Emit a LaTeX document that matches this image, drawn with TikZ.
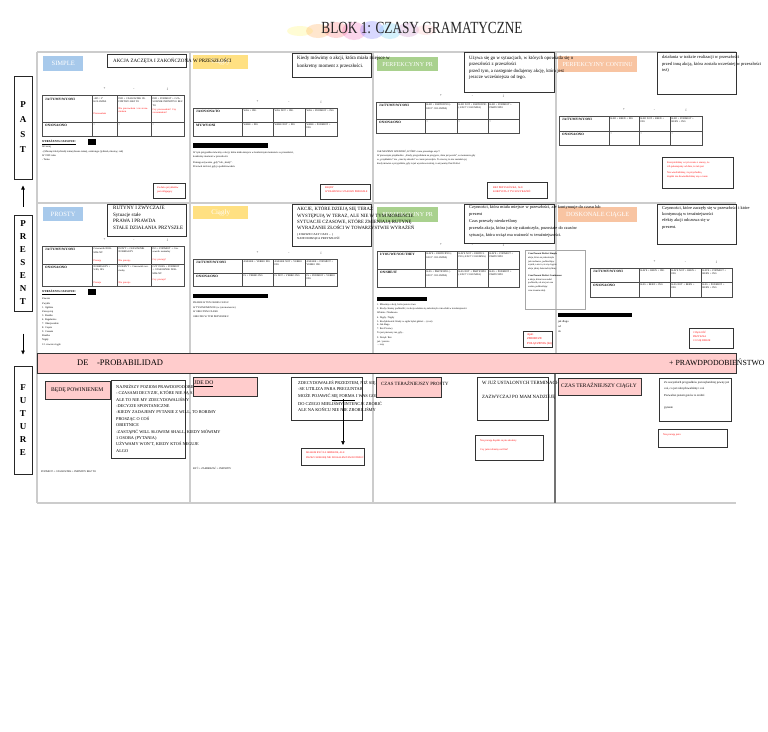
\documentclass[tikz,border=0pt]{standalone}
\usepackage{fontspec}
\setmainfont{Liberation Serif}
\usepackage{graphicx}
\usetikzlibrary{arrows.meta, positioning}
\definecolor{niebieski}{HTML}{A7C9EB}
\definecolor{zolty}{HTML}{FFE082}
\definecolor{zielony}{HTML}{A9D18E}
\definecolor{pomarancz}{HTML}{F8C4A2}
\definecolor{rozowy}{HTML}{FFCCCC}
\newcommand{\tabfont}{\fontsize{2.5}{3.1}\selectfont}
\newcommand{\czer}[1]{\textcolor{red}{#1}}

\tikzset{
  etykieta/.style={fill=#1, text=white, inner sep=0pt, anchor=north west, font=\fontsize{6}{6}\selectfont},
  ramka/.style={draw=black!80, line width=1pt, inner sep=0pt, anchor=north west},
  rozramka/.style={ramka, fill=rozowy},
  tekst/.style={inner sep=0pt, anchor=north west, align=left},
  czerwony/.style={tekst, text=red, font=\fontsize{2.6}{4}\selectfont},
  drobny/.style={tekst, font=\fontsize{2.6}{4.2}\selectfont},
  siatka/.style={draw=black!70, line width=0.7pt},
  znak/.style={inner sep=0pt, font=\fontsize{3.2}{3.2}\selectfont},
  kolumna/.style={inner sep=0pt, anchor=north west, align=left, font=\tabfont},
  linia/.style={draw=black!20, line width=1.4pt},
  bok/.style={draw=black!85, line width=1pt, minimum width=18, inner sep=0pt, align=center},
  strzalka/.style={-{Triangle[length=4pt,width=3.5pt]}, line width=0.6pt},
}

% tabela: nazwa, x0, y0, x1, y1, podzial wiersza, trzy podzialy kolumn
\newcommand{\tabela}[9]{%
  \def\tx{#2}\def\tca{#7}\def\tcb{#8}\def\tcc{#9}\def\txx{#4}%
  \draw[siatka] (#2,#3) rectangle (#4,#5);
  \draw[siatka] (#2,#6) -- (#4,#6);
  \foreach \kol in {#7,#8,#9} {\draw[siatka] (\kol,#3) -- (\kol,#5);}
  \node[znak] (#1plus) at ({(#7+#8)/2},{#3-6}) {+};
  \node[znak] (#1minus) at ({(#8+#9)/2},{#3-6}) {-};
  \node[znak] (#1pyt) at ({(#9+#4)/2},{#3-6}) {¿};
}
% wiersz tabeli: nazwa, y, osoba, trzy komorki
\newcommand{\wiersz}[6]{%
  \pgfmathsetmacro\kwa{\tca-\tx-4}\pgfmathsetmacro\kwb{\tcb-\tca-3}%
  \pgfmathsetmacro\kwc{\tcc-\tcb-3}\pgfmathsetmacro\kwd{\txx-\tcc-3}%
  \node[kolumna, text width=\kwa pt, font=\fontsize{3.3}{3.8}\selectfont\bfseries] (#1a) at (\tx+3,#2) {#3};
  \node[kolumna, text width=\kwb pt] (#1b) at (\tca+1.5,#2) {#4};
  \node[kolumna, text width=\kwc pt] (#1c) at (\tcb+1.5,#2) {#5};
  \node[kolumna, text width=\kwd pt] (#1d) at (\tcc+1.5,#2) {#6};
}

\begin{document}
\begin{tikzpicture}[x=1pt, y=-1pt]
\useasboundingbox (0,0) rectangle (768,731);
\fill[white] (0,0) rectangle (768,731);

% tytul z plama kolorow
\foreach \bx/\by/\rx/\ry/\bc in {300/31/13/5/yellow!60, 318/31/12/7/orange!70, 336/30/12/8/red!55,
    354/31/12/9/magenta!60, 372/30/12/9/blue!55, 390/31/11/8/cyan!60, 408/30/11/7/violet!45, 426/30/10/5/pink}
  \fill[\bc, opacity=0.28] (\bx,\by) ellipse [x radius=\rx, y radius=\ry];
\node[inner sep=0pt, text=black!85, font=\fontsize{17}{17}\selectfont] (tytul) at (422,28)
  {\scalebox{0.78}[1]{BLOK 1: CZASY GRAMATYCZNE}};

% linie podzialu
\draw[linia] (37,52) -- (736,52);
\draw[linia] (37,203) -- (736,203);
\draw[linia] (37,503) -- (736,503);
\foreach \kx in {37,190,373} \draw[linia] (\kx,52) -- (\kx,503);
\draw[linia] (556,52) -- (556,353);
\draw[draw=black!55, line width=1.2pt] (555,373) -- (555,503);

% os czasu
\node[bok, minimum height=103, font=\fontsize{9}{15}\selectfont\bfseries] (past) at (23,127.5) {P\\A\\S\\T};
\node[bok, minimum height=96, font=\fontsize{9}{13}\selectfont\bfseries] (present) at (23,263) {P\\R\\E\\S\\E\\N\\T};
\node[bok, minimum height=108, font=\fontsize{9}{13}\selectfont\bfseries] (future) at (23,420) {F\\U\\T\\U\\R\\E};
\draw[strzalka, shorten <=8pt, shorten >=6pt] (present) -- (past);
\draw[strzalka, shorten <=22pt, shorten >=11pt] (present) -- (future);

% etykiety czasow
\node[etykieta=niebieski, minimum width=40, minimum height=15, font=\fontsize{6.5}{6.5}\selectfont] (simple) at (43,56) {SIMPLE};
\node[etykieta=zolty, minimum width=55, minimum height=14, font=\fontsize{7}{7}\selectfont] (ciagly1) at (193,55) {Ciągły};
\node[etykieta=zielony, minimum width=61, minimum height=14] (perf1) at (377,57) {PERFEKCYJNY PR};
\node[etykieta=pomarancz, minimum width=79, minimum height=16] (perfc1) at (558,56) {PERFEKCYJNY CONTINU};
\node[etykieta=niebieski, minimum width=40, minimum height=14, font=\fontsize{6.5}{6.5}\selectfont] (prosty) at (43,207) {PROSTY};
\node[etykieta=zolty, minimum width=55, minimum height=13, font=\fontsize{7}{7}\selectfont] (ciagly2) at (193,206) {Ciągły};
\node[etykieta=zielony, minimum width=61, minimum height=15] (perf2) at (377,207) {PERFEKCYJNY PR};
\node[etykieta=pomarancz, minimum width=79, minimum height=15, font=\fontsize{6.3}{6.3}\selectfont] (dosk) at (558,207) {DOSKONALE CIĄGŁE};

% ---------- PAST ----------
\node[ramka, minimum width=79, minimum height=13] (def1) at (107,54) {};
\node[tekst, anchor=west, font=\fontsize{5}{5}\selectfont] (def1t) at (113,60.5) {AKCJA ZACZĘTA I ZAKOŃCZONA W PRZESZŁOŚCI};
\tabela{ta}{42}{95}{184}{136}{122}{92}{117}{151}
\wiersz{ta1}{98}{JA/TY/MY/WY/ONI}{+ED / 2° KOLUMNA\\[8pt]\czer{Pracowałem}}{DID + CZASOWNIK INFINITIVO BEZ TO\\[3pt]\czer{Nie pracowałem / nie zrozumiałem}}{DID + PODMIOT + CZASOWNIK INFINITIVO BEZ TO\\[1pt]\czer{Czy pracowałem? Czy zrozumiałem?}}
\wiersz{ta2}{124}{ON/ONA/ONO}{=}{=}{=}
\node[tekst, font=\fontsize{3}{3}\selectfont\bfseries\itshape] (wyr1) at (42,140) {\underline{WYRAŻENIA CZASOWE:}};
\fill (88,139) rectangle (96,145);
\node[drobny] (wyr1t) at (42,146) {Wczoraj\\- (Miesiąc/rok/tydzień) temu (dawno temu), ostatniego (tydzień, miesiąc, rok)\\W 1999 roku\\- Temu};
\node[ramka, minimum width=32, minimum height=15] (bl1) at (153,183) {};
\node[czerwony] (bl1t) at (157,186.5) {Za dużo przykładów\\jest obligujący};

\node[ramka, minimum width=79, minimum height=24] (def2) at (292,53) {};
\node[tekst, font=\fontsize{5}{8}\selectfont] (def2t) at (297,56) {Kiedy mówimy o akcji, która miała miejsce w\\konkretny moment z przeszłości.};
\tabela{tb}{193}{108}{337}{136}{122}{242}{273}{305}
\wiersz{tb1}{110}{JA/ON/ONA/TO}{WAS + ING}{WAS NOT + ING}{WAS + PODMIOT + ING}
\wiersz{tb2}{124}{MY/WY/ONI}{WERE + ING}{WERE NOT + ING}{WERE + PODMIOT + ING}
\fill (193,143) rectangle (268,148);
\node[drobny] (wyr2t) at (193,151.5) {W tym przypadku mówimy o akcji, która miała miejsce w konkretnym momencie w przeszłości,\\konkretny moment w przeszłości.\\[1.5pt]Pomaga używanie ,,gdy'' lub ,,kiedy''.\\Przerwał mi ktoś, gdy ja podróżowałem.};
\node[ramka, minimum width=50, minimum height=15] (bl2) at (320,184) {};
\node[czerwony] (bl2t) at (325,187) {BŁĘDY\\WYRAŻENIA CZASOWE PRZESZŁE};

\node[ramka, minimum width=90, minimum height=40] (def3) at (464,52) {};
\node[tekst, font=\fontsize{4.8}{6.6}\selectfont] (def3t) at (469,55.5) {Używa się go w sytuacjach, w których opowiada się o\\przeszłości z przeszłości\\przed tym, a następnie dodajemy akcję, która jest\\jeszcze wcześniejsza od tego.};
\tabela{tc}{376}{102}{519}{133}{119}{425}{457}{488}
\wiersz{tc1}{104}{JA/TY/MY/WY/ONI}{HAD + PARTICIPIO (-ED/3° COLUMNA)}{HAD NOT + PARTICIPIO (-ED/3° COLUMNA)}{HAD + PODMIOT + PARTICIPIO}
\wiersz{tc2}{121}{ON/ONA/ONO}{=}{=}{=}
\node[drobny, font=\fontsize{2.5}{4.2}\selectfont] (wyr3t) at (377,150) {JAK MOŻEMY WIEDZIEĆ, KTÓRY czasu przeszłego użyć?\\W pierwszym przykładzie: ,,Kiedy przyjechałem na przyjęcie, Ania już poszła'', w momencie gdy\\w ,,przykładzie'' nie ,,czas by odeszła'' w czasie przeszłym. To znaczy, że nie zastałem jej\\kiedy mówisz o przyjeździe, gdy ta już wyszła wcześniej, to używamy Past Perfect};
\node[ramka, minimum width=60, minimum height=16] (bl3) at (487,182) {};
\node[czerwony] (bl3t) at (493,186) {BEZ PRZYSŁÓWKA, ALE\\KORZYSTA Z TYCH WYRAŻEŃ};

\node[ramka, minimum width=79, minimum height=42] (def4) at (657,52) {};
\node[tekst, font=\fontsize{4.5}{6.5}\selectfont] (def4t) at (662,55.5) {działania w trakcie realizacji w przeszłości\\przed inną akcją, która została wcześniej w przeszłości\\też)};
\tabela{td}{559}{116}{702}{145}{131}{609}{639}{670}
\wiersz{td1}{118}{JA/TY/MY/WY/ONI}{HAD + BEEN + ING}{HAD NOT + BEEN + ING}{HAD + PODMIOT + BEEN + ING}
\wiersz{td2}{133}{ON/ONA/ONO}{=}{=}{=}
\node[ramka, minimum width=71, minimum height=31] (bl4) at (662,157) {};
\node[czerwony] (bl4t) at (667,161) {Korzystaliśmy w tym czasie z szansy, że\\ich pokazujemy od dnia, że tak jest\\[2pt]Nie wiedzieliśmy, że przychodzą\\dopóki nie dowiedzieliśmy się o czasie};

% ---------- PRESENT ----------
\node[ramka, minimum width=79, minimum height=32] (def5) at (107,204) {};
\node[tekst, font=\fontsize{5}{6.7}\selectfont] (def5t) at (113,206) {RUTYNY I ZWYCZAJE\\Sytuacje stałe\\PRAWA I PRAWDA\\STAŁE DZIAŁANIA PRZYSZŁE};
\tabela{te}{42}{246}{184}{286}{264}{92}{117}{151}
\wiersz{te1}{248}{JA/TY/MY/WY/ONI}{Czasownik NORMALNY\\[5pt]\czer{Pracuję}}{DON'T + CZASOWNIK NORMALNY\\[5pt]\czer{Nie pracuję}}{DO + PODMIOT + Czasownik normalny\\[4pt]\czer{Czy pracuję?}}
\wiersz{te2}{266}{ON/ONA/ONO}{NORMALNY + S/ES, IES\\[9pt]\czer{Pracuje}}{DOESN'T + Czasownik normalny\\[9pt]\czer{Nie pracuje}}{CZY DOES + PODMIOT + CZASOWNIK NORMALNY\\[3pt]\czer{Czy pracuje?}}
\node[tekst, font=\fontsize{3}{3}\selectfont\bfseries\itshape] (wyr5) at (42,290) {\underline{WYRAŻENIA CZASOWE:}};
\fill (88,289) rectangle (96,295);
\node[drobny, font=\fontsize{2.6}{4.1}\selectfont] (wyr5t) at (42,298) {Zawsze\\Zwykle\\1. Ogólnie\\Zazwyczaj\\3. Rzadko\\4. Regularnie\\7. Okazjonalnie\\8. Często\\9. Czasem\\Rzadko\\Nigdy\\12. zawsze ciągle};

\node[ramka, minimum width=79, minimum height=42] (def6) at (292,204) {};
\node[tekst, font=\fontsize{4.8}{6.3}\selectfont] (def6t) at (297,206.5) {AKCJE, KTÓRE DZIEJĄ SIĘ TERAZ\\WYSTĘPUJĄ W TERAZ, ALE NIE W TYM MOMENCIE\\SYTUACJE CZASOWE, KTÓRE ZMIENIAJĄ RUTYNĘ\\WYRAŻANIE ZŁOŚCI W TOWARZYSTWIE WYRAŻEŃ};
\node[tekst, font=\fontsize{3}{4.5}\selectfont] (def6s) at (297,233) {( ZAWSZE CAŁY CZAS ... )\\NADCHODZĄCA PRZYSZŁOŚĆ};
\tabela{tf}{193}{259}{337}{286}{273}{242}{273}{305}
\wiersz{tf1}{261}{JA/TY/MY/WY/ONI}{AM/ARE + VERBO ING}{AM/ARE NOT + VERBO ING}{AM/ARE + PODMIOT + VERBO ING}
\wiersz{tf2}{275}{ON/ONA/ONO}{IS + VERBO ING}{IS NOT + VERBO ING}{IS + PODMIOT + VERBO ING}
\fill (193,294) rectangle (268,298);
\node[drobny, font=\fontsize{2.5}{4.5}\selectfont] (wyr6t) at (193,302) {PRAWIE W TEN OKRES CZASU\\W TYM MOMENCIE (w tym momencie)\\W OBECNYM CZASIE\\OBECNIE W TYM PRZYPADKU};

\node[ramka, minimum width=90, minimum height=39] (def7) at (464,204) {};
\node[tekst, font=\fontsize{4.4}{7}\selectfont] (def7t) at (469,205.5) {Czynności, która miała miejsce w przeszłości, ale kontynuuje do czasu lub\\prezent\\Czas przeszły nieokreślony\\przeszła akcja, która już się zakończyła, pozostałe do czasów\\sytuacja, która wciąż ma ważność w teraźniejszości.};
\tabela{tg}{377}{251}{519}{287}{269}{425}{457}{488}
\wiersz{tg1}{253}{I/YOU/WE/YOU/THEY}{HAVE + PARTICIPIO (-ED/3° COLUMNA)}{HAVE NOT + PARTICIPIO (-ED/3° COLUMNA)}{HAVE + PODMIOT + PARTICIPIO}
\wiersz{tg2}{271}{ON/SHE/IT}{HAS + PARTICIPIO (-ED/3° COLUMNA)}{HAS NOT + PARTICIPIO (-ED/3° COLUMNA)}{HAS + PODMIOT + PARTICIPIO}
\node[draw=black!35, line width=0.8pt, inner sep=0pt, anchor=north west, minimum width=60, minimum height=59] (bok7) at (525,250) {};
\node[drobny, font=\fontsize{2.4}{3.7}\selectfont] (bok7t) at (528,253) {\textbf{Czas Present Perfect Simple}\\akcja, która się zakończyła\\już niedawno, podkreślając\\wynik, a nie to, że się ciągnie\\akcja jakiej doświadczyliśmy\\[3pt]\textbf{Czas Present Perfect Continuous}\\a akcja, która trwa nadal\\podkreśla, ale nie jest ona\\ważna, podkreślając\\czas trwania akcji.};
\fill (377,297) rectangle (427,301);
\node[drobny, font=\fontsize{2.5}{3.7}\selectfont] (wyr7t) at (377,304) {1. Mówimy o akcji, która jeszcze trwa\\2. Kiedy chcemy podkreślić, że akcja właśnie się zakończyła i ma efekt w teraźniejszości\\Właśnie / Niedawno\\[1.5pt]4. Nigdy / Nigdy\\5. Kiedykolwiek: Kiedy w ogóle byłeś gdzieś ... (ever)\\6. Jak długo\\7. Bez Przerwy\\To jest pierwszy raz, gdy...\\[1.5pt]9. Dotąd / Bez\\już / jeszcze\\... razy};
\node[ramka, minimum width=29, minimum height=16] (bl7) at (523,331) {};
\node[czerwony, font=\fontsize{3}{4.3}\selectfont] (bl7t) at (527,333.5) {Ajuti\\ZBIORCZE\\POŁĄCZENIA (bit)};

\node[ramka, minimum width=79, minimum height=40] (def8) at (657,204) {};
\node[tekst, font=\fontsize{4.4}{6.3}\selectfont] (def8t) at (662,206) {Czynności, które zaczęły się w przeszłości i które\\kontynuują w teraźniejszości\\efekty akcji odczuwa się w\\prezent.};
\tabela{th}{590}{268}{732}{297}{282}{639}{670}{701}
\wiersz{th1}{270}{JA/TY/MY/WY/ONI}{HAVE + BEEN + ING}{HAVE NOT + BEEN + ING}{HAVE + PODMIOT + BEEN + ING}
\wiersz{th2}{284}{ON/ONA/ONO}{HAS + BEEN + ING}{HAS NOT + BEEN + ING}{HAS + PODMIOT + BEEN + ING}
\fill (558,313) rectangle (632,317);
\node[drobny, font=\fontsize{2.8}{5}\selectfont] (wyr8t) at (558,320.5) {jak długo\\od\\do};
\node[ramka, minimum width=44, minimum height=20] (bl8) at (689,328) {};
\node[czerwony] (bl8t) at (693,331) {CIĄGŁOŚĆ\\PRZYSZŁA\\CO SIĘ DZIEJE};

% ---------- pasek prawdopodobienstwa ----------
\node[draw=black!80, line width=1pt, fill=rozowy, inner sep=0pt, anchor=north west, minimum width=699, minimum height=20] (pasek) at (37,353) {};
\node[tekst, anchor=west, font=\fontsize{8.5}{8.5}\selectfont] (de) at (77,362.5) {DE\quad -PROBABILIDAD};
\node[tekst, anchor=west, font=\fontsize{7.8}{7.8}\selectfont] (plus) at (669,362) {+ PRAWDPODOBIEŃSTWO};

% ---------- FUTURE ----------
\node[rozramka, minimum width=65, minimum height=18] (bede) at (45,381) {};
\node[tekst, anchor=west, font=\fontsize{5.6}{5.6}\selectfont] (bedet) at (51,390) {BĘDĘ POWINIENEM};
\node[ramka, minimum width=74, minimum height=78] (will) at (111,380) {};
\node[tekst, font=\fontsize{4.3}{6.4}\selectfont] (willt) at (116,384.5) {NAJNIŻSZY POZIOM PRAWDOPODOBIEŃSTWA\\- CZASAMI DECYZJE, KTÓRE NIE SĄ SPONTANICZNE\\ALE TO NIE MY ZDECYDOWALIŚMY\\-DECYZJE SPONTANICZNE\\-KIEDY ZADAJEMY PYTANIE Z WILL, TO ROBIMY\\PROSZĄC O COŚ\\OBIETNICE\\-ZASTĄPIĆ WILL SŁOWEM SHALL, KIEDY MÓWIMY\\1 OSOBA (PYTANIA)\\UŻYWAMY WON'T, KIEDY KTOŚ NEGUJE\\ALGO};
\node[drobny, font=\fontsize{2.6}{3}\selectfont] (wzor1) at (41,471) {PODMIOT + CZASOWNIK + INFINITIV BEZ TO};

\node[rozramka, minimum width=64, minimum height=19] (ide) at (193,377) {};
\node[tekst, anchor=west, font=\fontsize{5.6}{5.6}\selectfont] (idet) at (194,384) {\underline{JDE DO}};
\node[drobny, font=\fontsize{2.6}{3}\selectfont] (wzor2) at (193,467) {BYĆ + ZAMIERZAĆ + INFINITIV};
\node[ramka, minimum width=71, minimum height=43] (zdec) at (291,377) {};
\node[tekst, font=\fontsize{4.4}{6.5}\selectfont] (zdect) at (298,380.5) {ZDECYDOWAŁEŚ PRZEDTEM, NIŻ SIĘ ZACZĘŁO\\-SE UTILIZA PARA PREGUNTAR\\MOŻE POJAWIĆ \underline{SIĘ FORMA} I WAS GOING TO\\DO CZEGO MIELIŚMY INTENCJE ZROBIĆ\\ALE NA KOŃCU NIE NIE ZROBILIŚMY};
\coordinate (forma) at (343,399);
\node[ramka, minimum width=63, minimum height=17] (impreza) at (301,448) {};
\node[czerwony, font=\fontsize{2.5}{5}\selectfont] (imprezat) at (306,451.5) {MIAŁEM BYĆ NA IMPREZIE, ALE\\PRZEZ CHOROBĘ NIE ZDOŁAŁEM TAM DOTRZEĆ};
\draw[strzalka, shorten >=3pt] (forma) -- (forma |- impreza.north);

\node[rozramka, minimum width=65, minimum height=20] (tprosty) at (376,377) {};
\node[tekst, anchor=west, font=\fontsize{4.8}{4.8}\selectfont] (tprostyt) at (381,383) {CZAS TERAŹNIEJSZY PROSTY};
\node[ramka, minimum width=71, minimum height=43] (termin) at (477,377) {};
\node[tekst, anchor=west, font=\fontsize{4.8}{4.8}\selectfont] (termint) at (482,383) {W JUŻ USTALONYCH TERMINACH};
\node[tekst, anchor=west, font=\fontsize{4.8}{4.8}\selectfont] (nadzieja) at (482,397) {ZAZWYCZAJ PO MAM NADZIEJĘ};
\node[ramka, minimum width=68, minimum height=25] (termbl) at (475,435) {};
\node[czerwony] (termblt) at (480,439.5) {Nie pracuję dopóki się nie skończy\\[5pt]Czy jutro idziemy na film?};

\node[rozramka, minimum width=83, minimum height=17] (tciagly) at (558,378) {};
\node[tekst, anchor=west, font=\fontsize{5.4}{5.4}\selectfont] (tciaglyt) at (561,385.5) {CZAS TERAŹNIEJSZY CIĄGŁY};
\node[ramka, minimum width=72, minimum height=43] (pewny) at (659,378) {};
\node[drobny, font=\fontsize{3}{6.5}\selectfont] (pewnyt) at (664,381) {Ze wszystkich przypadków jest najbardziej pewny już\\coś, co już zdecydowaliśmy i coś\\Pozwalisz jestem gotów to zrobić.\\[6pt]pytanie};
\node[ramka, minimum width=69, minimum height=18] (pewnybl) at (658,429) {};
\node[czerwony] (pewnyblt) at (663,434) {Nie pracuję jutro};
\end{tikzpicture}
\end{document}
